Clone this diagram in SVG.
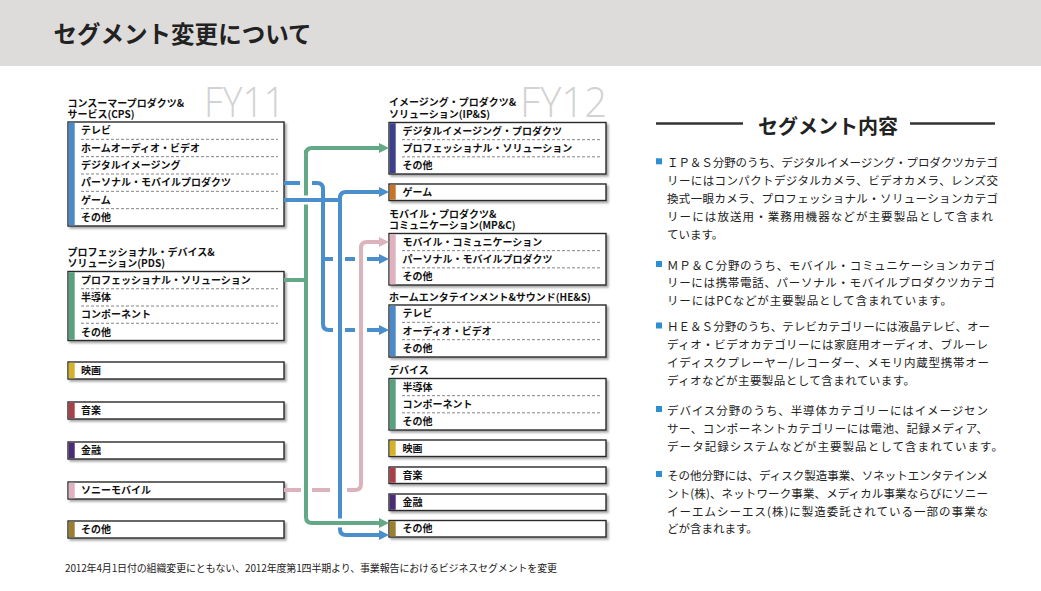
<svg xmlns="http://www.w3.org/2000/svg" width="1041" height="591" viewBox="0 0 1041 591">
<defs>
<style>
.jp{font-family:"Noto Sans CJK JP","Noto Sans",sans-serif}
.title{font-size:24px;font-weight:bold;fill:#222}
.hd{font-size:10px;font-weight:bold;fill:#111}
.lb{font-size:10px;font-weight:bold;fill:#111}
.box{fill:#fff;stroke:#2a2a2a;stroke-width:1.4;filter:url(#sh)}
.sep{stroke:#666;stroke-width:0.8;stroke-dasharray:3 2}
.fy{font-family:"Open Sans","Lato",sans-serif;font-weight:300;font-size:42px;fill:#d2d2d2}
.body{font-size:11.5px;fill:#222}
.cn{fill:none;stroke-width:4}
.g{stroke:#63a887}.b{stroke:#4a8fcb}.p{stroke:#dcb2bd}
.halo{fill:none;stroke:#fff;stroke-width:9}
.bul{fill:#2b8fd1}
.rule{stroke:#333;stroke-width:2.5}
</style>
<filter id="sh" x="-5%" y="-20%" width="115%" height="150%"><feDropShadow dx="2" dy="2" stdDeviation="1" flood-color="#000" flood-opacity="0.35"/></filter>
<marker id="ag" markerUnits="userSpaceOnUse" markerWidth="10" markerHeight="10" viewBox="0 0 10 10" refX="0" refY="5" orient="auto"><path d="M0,0L10,5L0,10z" fill="#63a887"/></marker>
<marker id="ab" markerUnits="userSpaceOnUse" markerWidth="10" markerHeight="10" viewBox="0 0 10 10" refX="0" refY="5" orient="auto"><path d="M0,0L10,5L0,10z" fill="#4a8fcb"/></marker>
<marker id="ap" markerUnits="userSpaceOnUse" markerWidth="10" markerHeight="10" viewBox="0 0 10 10" refX="0" refY="5" orient="auto"><path d="M0,0L10,5L0,10z" fill="#dcb2bd"/></marker>
</defs>

<rect x="0" y="0" width="1041" height="66" fill="#dddcdb"/>
<text class="jp title" x="53.5" y="42.5" textLength="258" lengthAdjust="spacingAndGlyphs">セグメント変更について</text>

<text class="fy" x="204" y="117" textLength="81" lengthAdjust="spacingAndGlyphs">FY11</text>
<text class="fy" x="520" y="117" textLength="87" lengthAdjust="spacingAndGlyphs">FY12</text>

<!-- FY11 nodes -->
<g id="l-cps">
<text class="jp hd"><tspan x="67.5" y="106.5">コンスーマープロダクツ&amp;</tspan><tspan x="67.5" y="117.5">サービス(CPS)</tspan></text>
<rect class="box" x="68" y="122" width="216" height="104"/>
<rect x="68.7" y="122.7" width="6" height="102.6" fill="#4b8ac6"/>
<line class="sep" x1="81" x2="278" y1="139.33" y2="139.33"/>
<line class="sep" x1="81" x2="278" y1="156.67" y2="156.67"/>
<line class="sep" x1="81" x2="278" y1="174" y2="174"/>
<line class="sep" x1="81" x2="278" y1="191.33" y2="191.33"/>
<line class="sep" x1="81" x2="278" y1="208.67" y2="208.67"/>
<text class="jp lb" x="81" y="134.3">テレビ</text>
<text class="jp lb" x="81" y="151.6">ホームオーディオ・ビデオ</text>
<text class="jp lb" x="81" y="168.9">デジタルイメージング</text>
<text class="jp lb" x="81" y="186.3">パーソナル・モバイルプロダクツ</text>
<text class="jp lb" x="81" y="203.6">ゲーム</text>
<text class="jp lb" x="81" y="220.9">その他</text>
</g>

<g id="l-pds">
<text class="jp hd"><tspan x="67.5" y="255.5">プロフェッショナル・デバイス&amp;</tspan><tspan x="67.5" y="266.5">ソリューション(PDS)</tspan></text>
<rect class="box" x="68" y="271.5" width="216" height="69"/>
<rect x="68.7" y="272.2" width="6" height="67.6" fill="#5aa07e"/>
<line class="sep" x1="81" x2="278" y1="288.75" y2="288.75"/>
<line class="sep" x1="81" x2="278" y1="306" y2="306"/>
<line class="sep" x1="81" x2="278" y1="323.25" y2="323.25"/>
<text class="jp lb" x="81" y="283.7">プロフェッショナル・ソリューション</text>
<text class="jp lb" x="81" y="301">半導体</text>
<text class="jp lb" x="81" y="318.2">コンポーネント</text>
<text class="jp lb" x="81" y="335.5">その他</text>
</g>

<g id="l-movie">
<rect class="box" x="68" y="362" width="216" height="17"/>
<rect x="68.7" y="362.7" width="6" height="15.6" fill="#d4b22a"/>
<text class="jp lb" x="81" y="374.1">映画</text>
</g>
<g id="l-music">
<rect class="box" x="68" y="402" width="216" height="17"/>
<rect x="68.7" y="402.7" width="6" height="15.6" fill="#a8404a"/>
<text class="jp lb" x="81" y="414.1">音楽</text>
</g>
<g id="l-fin">
<rect class="box" x="68" y="442" width="216" height="17"/>
<rect x="68.7" y="442.7" width="6" height="15.6" fill="#4a2c74"/>
<text class="jp lb" x="81" y="454.1">金融</text>
</g>
<g id="l-sm">
<rect class="box" x="68" y="482" width="216" height="17"/>
<rect x="68.7" y="482.7" width="6" height="15.6" fill="#deb3bf"/>
<text class="jp lb" x="81" y="494.1">ソニーモバイル</text>
</g>
<g id="l-other">
<rect class="box" x="68" y="521" width="216" height="17"/>
<rect x="68.7" y="521.7" width="6" height="15.6" fill="#9c7f2e"/>
<text class="jp lb" x="81" y="533.1">その他</text>
</g>

<!-- FY12 nodes -->
<g id="r-ips">
<text class="jp hd"><tspan x="389" y="106">イメージング・プロダクツ&amp;</tspan><tspan x="389" y="117.5">ソリューション(IP&amp;S)</tspan></text>
<rect class="box" x="389" y="122.5" width="217" height="51.5"/>
<rect x="389.7" y="123.2" width="6" height="50.1" fill="#3b3f8c"/>
<line class="sep" x1="402" x2="600" y1="139.67" y2="139.67"/>
<line class="sep" x1="402" x2="600" y1="156.83" y2="156.83"/>
<text class="jp lb" x="402.5" y="134.7">デジタルイメージング・プロダクツ</text>
<text class="jp lb" x="402.5" y="151.9">プロフェッショナル・ソリューション</text>
<text class="jp lb" x="402.5" y="169">その他</text>
</g>
<g id="r-game">
<rect class="box" x="389" y="184" width="217" height="16.5"/>
<rect x="389.7" y="184.7" width="6" height="15.1" fill="#c4762a"/>
<text class="jp lb" x="402.5" y="195.9">ゲーム</text>
</g>
<g id="r-mpc">
<text class="jp hd"><tspan x="389" y="217.5">モバイル・プロダクツ&amp;</tspan><tspan x="389" y="229">コミュニケーション(MP&amp;C)</tspan></text>
<rect class="box" x="389" y="233.5" width="217" height="51.5"/>
<rect x="389.7" y="234.2" width="6" height="50.1" fill="#deb3bf"/>
<line class="sep" x1="402" x2="600" y1="250.67" y2="250.67"/>
<line class="sep" x1="402" x2="600" y1="267.83" y2="267.83"/>
<text class="jp lb" x="402.5" y="245.7">モバイル・コミュニケーション</text>
<text class="jp lb" x="402.5" y="262.9">パーソナル・モバイルプロダクツ</text>
<text class="jp lb" x="402.5" y="280">その他</text>
</g>
<g id="r-hes">
<text class="jp hd" x="389" y="300.5">ホームエンタテインメント&amp;サウンド(HE&amp;S)</text>
<rect class="box" x="389" y="305" width="217" height="52"/>
<rect x="389.7" y="305.7" width="6" height="50.6" fill="#4b8ac6"/>
<line class="sep" x1="402" x2="600" y1="322.33" y2="322.33"/>
<line class="sep" x1="402" x2="600" y1="339.67" y2="339.67"/>
<text class="jp lb" x="402.5" y="317.3">テレビ</text>
<text class="jp lb" x="402.5" y="334.6">オーディオ・ビデオ</text>
<text class="jp lb" x="402.5" y="351.9">その他</text>
</g>
<g id="r-dev">
<text class="jp hd" x="389" y="373.5">デバイス</text>
<rect class="box" x="389" y="378.5" width="217" height="51.5"/>
<rect x="389.7" y="379.2" width="6" height="50.1" fill="#5aa07e"/>
<line class="sep" x1="402" x2="600" y1="395.67" y2="395.67"/>
<line class="sep" x1="402" x2="600" y1="412.83" y2="412.83"/>
<text class="jp lb" x="402.5" y="390.7">半導体</text>
<text class="jp lb" x="402.5" y="407.9">コンポーネント</text>
<text class="jp lb" x="402.5" y="425">その他</text>
</g>
<g id="r-movie">
<rect class="box" x="389" y="440" width="217" height="16.5"/>
<rect x="389.7" y="440.7" width="6" height="15.1" fill="#d4b22a"/>
<text class="jp lb" x="402.5" y="451.9">映画</text>
</g>
<g id="r-music">
<rect class="box" x="389" y="467" width="217" height="16.5"/>
<rect x="389.7" y="467.7" width="6" height="15.1" fill="#a8404a"/>
<text class="jp lb" x="402.5" y="478.9">音楽</text>
</g>
<g id="r-fin">
<rect class="box" x="389" y="494" width="217" height="16.5"/>
<rect x="389.7" y="494.7" width="6" height="15.1" fill="#4a2c74"/>
<text class="jp lb" x="402.5" y="505.9">金融</text>
</g>
<g id="r-other">
<rect class="box" x="389" y="520.5" width="217" height="16.5"/>
<rect x="389.7" y="521.2" width="6" height="15.1" fill="#9c7f2e"/>
<text class="jp lb" x="402.5" y="532.4">その他</text>
</g>

<!-- connectors -->
<g id="connectors">
<path class="cn b" d="M340,530V198Q340,192 346,192H379" marker-end="url(#ab)"/>
<path class="cn b" d="M340,196V529Q340,535 346,535H379" marker-end="url(#ab)"/>
<path class="cn g" d="M306,517V154Q306,148 312,148H379" marker-end="url(#ag)"/>
<path class="cn g" d="M306,150V517Q306,523 312,523H334"/>
<path class="halo" d="M334,523H346"/>
<path class="cn g" d="M332,523H379" marker-end="url(#ag)"/>
<path class="cn g" d="M284,280H308"/>
<path class="halo" d="M300,200H312"/>
<path class="cn b" d="M284,200H342"/>
<path class="cn b" d="M284,183H300M312,183H317Q323,183 323,189V324Q323,330 329,330H333"/>
<path class="cn b" d="M345,330H355M367,330H379" marker-end="url(#ab)"/>
<path class="cn b" d="M321,259H333M345,259H355M367,259H379" marker-end="url(#ab)"/>
<path class="cn p" d="M284,490H301M312,490H330M347,490H355Q361,490 361,484V248Q361,242 367,242H379" marker-end="url(#ap)"/>
</g>

<!-- segment description -->
<g id="notes">
<line class="rule" x1="656" y1="123.5" x2="743" y2="123.5"/>
<line class="rule" x1="910" y1="123.5" x2="995" y2="123.5"/>
<text class="jp" x="758" y="134" font-size="20" font-weight="bold" fill="#222" textLength="140" lengthAdjust="spacingAndGlyphs">セグメント内容</text>

<rect class="bul" x="656" y="158.3" width="6" height="6"/>
<text class="jp body" x="667" y="167" textLength="331">ＩＰ＆Ｓ分野のうち、デジタルイメージング・プロダクツカテゴ</text>
<text class="jp body" x="667" y="185" textLength="331">リーにはコンパクトデジタルカメラ、ビデオカメラ、レンズ交</text>
<text class="jp body" x="667" y="203" textLength="331">換式一眼カメラ、プロフェッショナル・ソリューションカテゴ</text>
<text class="jp body" x="667" y="221" textLength="326">リーには放送用・業務用機器などが主要製品として含まれ</text>
<text class="jp body" x="667" y="238.5">ています。</text>

<rect class="bul" x="656" y="261" width="6" height="6"/>
<text class="jp body" x="667" y="269.5" textLength="328">ＭＰ＆Ｃ分野のうち、モバイル・コミュニケーションカテゴ</text>
<text class="jp body" x="667" y="287" textLength="328">リーには携帯電話、パーソナル・モバイルプロダクツカテゴ</text>
<text class="jp body" x="667" y="304.5" textLength="285">リーにはPCなどが主要製品として含まれています。</text>

<rect class="bul" x="656" y="322.5" width="6" height="6"/>
<text class="jp body" x="667" y="331" textLength="323">ＨＥ＆Ｓ分野のうち、テレビカテゴリーには液晶テレビ、オー</text>
<text class="jp body" x="667" y="349" textLength="321">ディオ・ビデオカテゴリーには家庭用オーディオ、ブルーレ</text>
<text class="jp body" x="667" y="367" textLength="322">イディスクプレーヤー/レコーダー、メモリ内蔵型携帯オー</text>
<text class="jp body" x="667" y="384.5" textLength="248">ディオなどが主要製品として含まれています。</text>

<rect class="bul" x="656" y="406" width="6" height="6"/>
<text class="jp body" x="667" y="414.5" textLength="321">デバイス分野のうち、半導体カテゴリーにはイメージセン</text>
<text class="jp body" x="667" y="432.5" textLength="321">サー、コンポーネントカテゴリーには電池、記録メディア、</text>
<text class="jp body" x="667" y="450.5" textLength="336">データ記録システムなどが主要製品として含まれています。</text>

<rect class="bul" x="656" y="471" width="6" height="6"/>
<text class="jp body" x="667" y="479.5" textLength="321">その他分野には、ディスク製造事業、ソネットエンタテインメ</text>
<text class="jp body" x="667" y="497.5" textLength="321">ント(株)、ネットワーク事業、メディカル事業ならびにソニー</text>
<text class="jp body" x="667" y="515.5" textLength="321">イーエムシーエス(株)に製造委託されている一部の事業な</text>
<text class="jp body" x="667" y="533">どが含まれます。</text>
</g>

<text class="jp" x="65" y="572" font-size="10" fill="#222" textLength="492">2012年4月1日付の組織変更にともない、2012年度第1四半期より、事業報告におけるビジネスセグメントを変更</text>
</svg>
